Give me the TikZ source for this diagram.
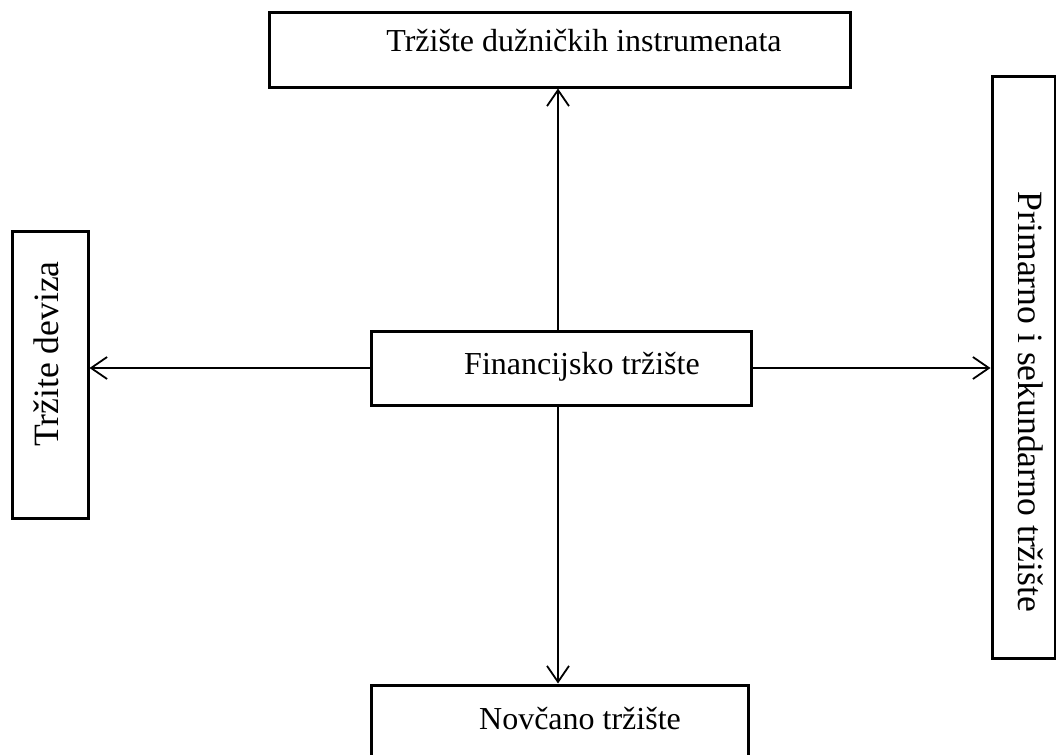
\documentclass[tikz,border=0pt]{standalone}
\usepackage{fontspec}
\setmainfont{Liberation Serif}
\usepackage{tikz}
\usetikzlibrary{arrows.meta,calc,positioning}

\begin{document}
\begin{tikzpicture}
[x=0.5pt, y=-0.5pt,
 font=\fontsize{16}{18}\selectfont,
 box/.style={draw, rectangle, line width=1.5pt, inner sep=0pt},
 txt/.style={inner sep=0pt},
 vtxt/.style={inner sep=0pt, font=\fontsize{17.8}{20}\selectfont},
 pfeil/.style={-{Straight Barb[length=8pt, width=11pt]}, line width=0.9pt}]
\useasboundingbox (0,0) rectangle (1056,755);
\node (dugbox) [box, minimum width=290.5pt, minimum height=37.5pt] at (559.5,49.5) {};
\node (finbox) [box, minimum width=190pt, minimum height=37pt] at (561,368) {};
\node (novbox) [box, minimum width=188.5pt, minimum height=50pt] at (559.5,735) {};
\node (devbox) [box, minimum width=38pt, minimum height=143.5pt] at (50,374.5) {};
\node (prmbox) [box, minimum width=31.5pt, minimum height=291pt] at (1023.5,367) {};
%
\node (dugtxt) [txt] at (584,41) {Tržište dužničkih instrumenata};
\node (fintxt) [txt] at (582,367) {Financijsko tržište};
\node (novtxt) [txt] at (580,719) {Novčano tržište};
\node (devtxt) [vtxt, rotate=90] at (46,354) {Tržite deviza};
\node (prmtxt) [vtxt, rotate=-90] at (1031,402) {Primarno i sekundarno tržište};
%
\coordinate (upfrom) at ($(finbox.north)+(-3,0)$);
\coordinate (dnfrom) at ($(finbox.south)+(-3,0)$);
\draw[pfeil] (upfrom) -- (upfrom |- dugbox.south);
\draw[pfeil] (dnfrom) -- (dnfrom |- novbox.north);
\draw[pfeil] (finbox.west) -- (finbox.west -| devbox.east);
\draw[pfeil] (finbox.east) -- (finbox.east -| prmbox.west);
\end{tikzpicture}
\end{document}
